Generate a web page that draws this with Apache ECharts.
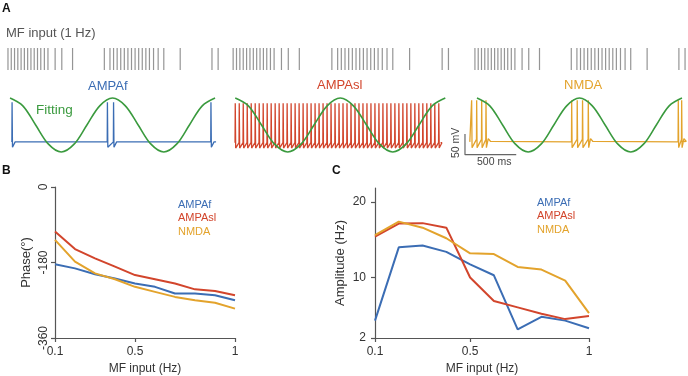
<!DOCTYPE html>
<html><head><meta charset="utf-8">
<script src="https://cdn.jsdelivr.net/npm/echarts@6/dist/echarts.min.js"></script>
<style>html,body{margin:0;padding:0;background:#fff}#c{width:688px;height:376px}</style>
</head><body><div id="c"></div>
<script>
// ---------- Panel B / C data ----------
const freqs = [0.1,0.2,0.3,0.4,0.5,0.6,0.7,0.8,0.9,1.0];
const phaseAMPAf  = [-184,-194,-208,-218,-230,-238,-254,-254,-258,-270];
const phaseAMPAsl = [-106,-148,-170,-190,-210,-220,-230,-244,-248,-258];
const phaseNMDA   = [-126,-178,-206,-220,-238,-250,-262,-270,-276,-290];
const ampAMPAf  = [4.3,14.0,14.25,13.4,11.75,10.3,3.15,4.8,4.3,3.3];
const ampAMPAsl = [15.4,17.15,17.2,16.6,10.0,6.9,6.05,5.2,4.5,4.9];
const ampNMDA   = [15.6,17.4,16.6,15.2,13.2,13.1,11.4,11.05,9.6,5.3];
const phaseTicks = [-360,-180,0];
const ampTicks = [2,10,20];
const freqTicks = [0.1,0.5,1];

// ---------- Panel A data (time in s) ----------
const mfInput = [-0.02,0.012,0.044,0.076,0.108,0.14,0.172,0.204,0.236,0.268,0.3,0.335,0.37,0.44,0.505,0.61,
  0.92,0.975,1.01,1.045,1.08,1.115,1.15,1.185,1.22,1.255,1.29,1.325,1.36,1.4,1.445,1.5,1.66,1.97,2.03];
const spikesAMPAf = [0.02,0.95,1.01,1.96];
const spikesAMPAsl = [0.0,0.038,0.076,0.114,0.152,0.19,0.228,0.266,0.304,0.342,0.38,0.418,0.456,0.494,0.532,
  0.57,0.608,0.646,0.684,0.722,0.76,0.798,0.836,0.874,0.912,0.95,0.988,1.026,1.064,1.102,1.14,1.178,1.216,
  1.254,1.292,1.33,1.368,1.406,1.444,1.482,1.52,1.558,1.596,1.634,1.672,1.71,1.748,1.786,1.824,1.862,1.9,1.938];
const spikesNMDA = [-0.052,-0.003,0.046,0.088,0.924,0.978,1.03,1.086,1.964,1.997];
const fitT = [0,0.125,0.25,0.375,0.5,0.625,0.75,0.875,1,1.125,1.25,1.375,1.5,1.625,1.75,1.875,2.0];
const fitV = [1,0.71,0,-0.71,-1,-0.71,0,0.71,1,0.71,0,-0.71,-1,-0.71,0,0.71,1];
const scaleBarMV = 50, scaleBarS = 0.5;

const BLUE='#3b6db4', RED='#d2452c', ORANGE='#e3a32c', GREEN='#3a9a3e', GRAY='#7a7a7a', AX='#555';
const FONT='Liberation Sans';

function trace(spikes, start, end, o){
  const d=[[start,o.base]];
  for(let i=0;i<spikes.length;i++){
    const s=spikes[i], next=spikes[i+1];
    const prev=spikes[i-1];
    const pre=(prev!==undefined && s-prev<o.gap)?o.pre:o.base;
    d.push([s-0.002,pre],[s,o.peak],[s+0.004,o.ahp]);
    if(next===undefined || next-s>=o.gap){
      if(o.bump){d.push([s+0.022,o.bump],[s+0.045,o.base+1]);}
      else d.push([s+0.03,o.base]);
    }
  }
  d.push([end,o.base]);
  return d;
}
const trA = trace(spikesAMPAf,0.02,2.01,{base:-66,pre:-66,peak:30,ahp:-79,gap:0.1});
trA[0]=[0.02,30];
const trB = trace(spikesAMPAsl,-0.002,1.955,{base:-68,pre:-68,peak:28,ahp:-81,gap:0.06});
const trC = trace(spikesNMDA,-0.07,2.0,{base:-66,pre:-60,peak:35,ahp:-80,gap:0.08,bump:-58});
const fit = fitT.map((t,i)=>[t,fitV[i]]);

const groups=[
  {left:4.9,width:220.4,min:-0.05,max:2.1,trace:trA,color:BLUE},
  {left:230,width:225.8,min:-0.05,max:2.1,trace:trB,color:RED},
  {left:461.6,width:225.5,min:-0.15,max:2.05,trace:trC,color:ORANGE}
];
const grid=[],xAxis=[],yAxis=[],series=[];
groups.forEach((g,i)=>{
  grid.push({left:g.left,width:g.width,top:48,height:22});
  grid.push({left:g.left,width:g.width,top:90,height:70});
  xAxis.push({gridIndex:2*i,type:'value',min:g.min,max:g.max,show:false});
  xAxis.push({gridIndex:2*i+1,type:'value',min:g.min,max:g.max,show:false});
  yAxis.push({gridIndex:2*i,type:'value',min:0,max:1,show:false});
  yAxis.push({gridIndex:2*i+1,type:'value',min:-110,max:60,show:false});
  yAxis.push({gridIndex:2*i+1,type:'value',min:-1.296,max:1.296,show:false});
});
groups.forEach((g,i)=>{
  series.push({type:'scatter',xAxisIndex:2*i,yAxisIndex:3*i,symbol:'rect',symbolSize:[1.2,22],
    itemStyle:{color:GRAY},data:mfInput.map(t=>[t,0.5]),silent:true,animation:false});
  series.push({type:'line',xAxisIndex:2*i+1,yAxisIndex:3*i+1,data:g.trace,showSymbol:false,
    lineStyle:{color:g.color,width:1.3},animation:false,silent:true});
  series.push({type:'line',xAxisIndex:2*i+1,yAxisIndex:3*i+2,data:fit,smooth:0.35,showSymbol:false,
    lineStyle:{color:GREEN,width:1.6},animation:false,silent:true});
});
series.push({type:'line',xAxisIndex:5,yAxisIndex:7,showSymbol:false,animation:false,silent:true,
  lineStyle:{color:'#666',width:1.2},
  data:[[-0.117,-97+scaleBarMV],[-0.117,-97],[-0.117+scaleBarS,-97]]});

grid.push({left:55,right:453,top:187,bottom:38}); // grid 6
grid.push({left:375,right:99,top:188,bottom:38}); // grid 7
const axLine={onZero:false,lineStyle:{color:AX,width:1.2}};
const tick={show:true,length:4,lineStyle:{color:AX,width:1.2}};
const lblStyle={color:'#333',fontFamily:FONT,fontSize:12};
function fmt(v){return String(+v.toFixed(2));}
[6,7].forEach(gi=>xAxis.push({gridIndex:gi,type:'value',min:0.1,max:1,axisLine:axLine,
  axisTick:Object.assign({},tick,{customValues:freqTicks}),
  axisLabel:Object.assign({},lblStyle,{customValues:freqTicks,formatter:fmt,margin:8}),splitLine:{show:false},
  name:'MF input (Hz)',nameLocation:'middle',nameGap:25,nameTextStyle:{color:'#333',fontFamily:FONT,fontSize:12}}));
yAxis.push({gridIndex:6,type:'value',min:-360,max:0,axisLine:Object.assign({show:true},axLine),axisTick:Object.assign({},tick,{customValues:phaseTicks}),
  axisLabel:Object.assign({},lblStyle,{customValues:phaseTicks,rotate:90,margin:5}),splitLine:{show:false},
  name:'Phase(°)',nameLocation:'middle',nameGap:22,nameRotate:90,nameTextStyle:{color:'#333',fontFamily:FONT,fontSize:13}}); // 9
yAxis.push({gridIndex:7,type:'value',min:2,max:21.85,axisLine:Object.assign({show:true},axLine),axisTick:Object.assign({},tick,{customValues:ampTicks}),
  axisLabel:Object.assign({},lblStyle,{customValues:ampTicks,margin:9}),splitLine:{show:false},
  name:'Amplitude (Hz)',nameLocation:'middle',nameGap:28,nameRotate:90,nameTextStyle:{color:'#333',fontFamily:FONT,fontSize:13}}); // 10
const lineS=(name,data,color,xi,yi)=>({name,type:'line',xAxisIndex:xi,yAxisIndex:yi,showSymbol:false,animation:false,
  data:freqs.map((f,i)=>[f,data[i]]),lineStyle:{color,width:2},itemStyle:{color}});
series.push(lineS('AMPAf',phaseAMPAf,BLUE,6,9),lineS('AMPAsl',phaseAMPAsl,RED,6,9),lineS('NMDA',phaseNMDA,ORANGE,6,9));
series.push(lineS('AMPAf',ampAMPAf,BLUE,7,10),lineS('AMPAsl',ampAMPAsl,RED,7,10),lineS('NMDA',ampNMDA,ORANGE,7,10));

const legItems=[{name:'AMPAf',textStyle:{color:BLUE}},{name:'AMPAsl',textStyle:{color:RED}},{name:'NMDA',textStyle:{color:ORANGE}}];
const legBase={orient:'vertical',icon:'none',itemWidth:0,itemHeight:0,itemGap:0,padding:0,selectedMode:false,data:legItems,
  textStyle:{fontFamily:FONT,fontSize:11,lineHeight:13.5,padding:0}};
const legend=[
  Object.assign({left:173,top:198},legBase),
  Object.assign({left:532,top:196},legBase)
];
const t=(text,left,top,color,size,weight)=>({text,left,top,padding:0,textStyle:{color,fontSize:size,fontWeight:weight||'normal',fontFamily:FONT}});
const title=[
  t('A',2,3,'#111',12,'bold'), t('B',2,165,'#111',12,'bold'), t('C',332,165,'#111',12,'bold'),
  t('MF input (1 Hz)',6,27,'#555',13),
  t('AMPAf',88,80,BLUE,13), t('AMPAsl',317,79,RED,13), t('NMDA',564,79,ORANGE,13),
  t('Fitting',36,103,GREEN,13.5),
  t('500 ms',477,157,'#444',10.5)
];
const chart=echarts.init(document.getElementById('c'),null,{renderer:'canvas'});
chart.setOption({animation:false,backgroundColor:'#fff',grid,xAxis,yAxis,series,legend,title,
  graphic:[{type:'text',x:451,y:158,rotation:Math.PI/2,style:{text:'50 mV',fill:'#444',font:'10.5px '+FONT}}]});
</script></body></html>
